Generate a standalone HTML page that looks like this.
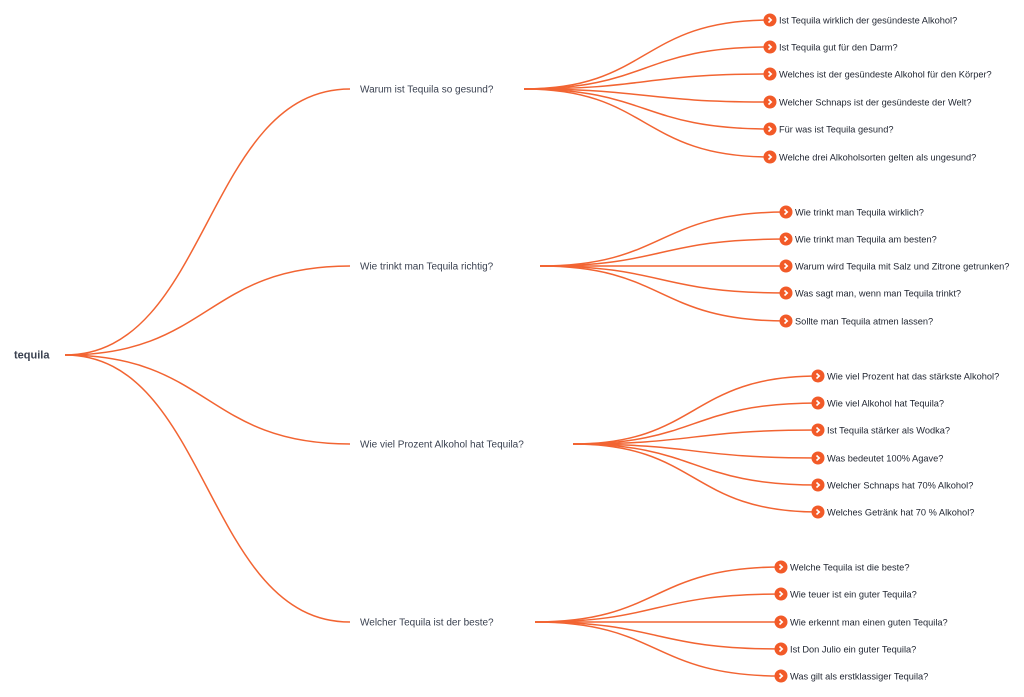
<!DOCTYPE html>
<html><head><meta charset="utf-8"><style>
html,body{margin:0;padding:0;background:#fff;}
svg{display:block}
text{font-family:"Liberation Sans",sans-serif;fill:#2d3340;}
.c{font-size:9.25px;fill:#1f2430}
.b{font-size:10px;fill:#3a4150}
path{fill:none;stroke:#f26432;stroke-width:1.5}
</style></head><body>
<svg width="1024" height="697" viewBox="0 0 1024 697">
<g>
<path d="M65 355 C210 355 205 89 350 89"/>
<path d="M65 355 C210 355 205 266 350 266"/>
<path d="M65 355 C210 355 205 444 350 444"/>
<path d="M65 355 C210 355 205 622 350 622"/>

<path d="M524 89 C650 89 640 20 770 20"/>
<path d="M524 89 C650 89 640 47 770 47"/>
<path d="M524 89 C650 89 640 74 770 74"/>
<path d="M524 89 C650 89 640 102 770 102"/>
<path d="M524 89 C650 89 640 129 770 129"/>
<path d="M524 89 C650 89 640 157 770 157"/>

<path d="M540 266 C666 266 656 212 786 212"/>
<path d="M540 266 C666 266 656 239 786 239"/>
<path d="M540 266 C666 266 656 266 786 266"/>
<path d="M540 266 C666 266 656 293 786 293"/>
<path d="M540 266 C666 266 656 321 786 321"/>

<path d="M573 444 C699 444 689 376 818 376"/>
<path d="M573 444 C699 444 689 403 818 403"/>
<path d="M573 444 C699 444 689 430 818 430"/>
<path d="M573 444 C699 444 689 458 818 458"/>
<path d="M573 444 C699 444 689 485 818 485"/>
<path d="M573 444 C699 444 689 512 818 512"/>

<path d="M535 622 C661 622 651 567 781 567"/>
<path d="M535 622 C661 622 651 594 781 594"/>
<path d="M535 622 C661 622 651 622 781 622"/>
<path d="M535 622 C661 622 651 649 781 649"/>
<path d="M535 622 C661 622 651 676 781 676"/>
</g>

<text x="14" y="358.5" style="font-size:11px;font-weight:bold;fill:#3a4150">tequila</text>
<text class="b" x="360" y="92.5">Warum ist Tequila so gesund?</text>
<text class="b" x="360" y="269.5">Wie trinkt man Tequila richtig?</text>
<text class="b" x="360" y="447.5">Wie viel Prozent Alkohol hat Tequila?</text>
<text class="b" x="360" y="625.5">Welcher Tequila ist der beste?</text>

<defs>
<g id="dot"><circle r="6.5" fill="#f25a28"/><path d="M-1.5 -2.5 L1.2 0 L-1.5 2.5" style="stroke:#fff;stroke-width:1.6"/></g>
</defs>

<use href="#dot" x="770" y="20"/><text class="c" x="779" y="23.5">Ist Tequila wirklich der gesündeste Alkohol?</text>
<use href="#dot" x="770" y="47"/><text class="c" x="779" y="50.5">Ist Tequila gut für den Darm?</text>
<use href="#dot" x="770" y="74"/><text class="c" x="779" y="77.5">Welches ist der gesündeste Alkohol für den Körper?</text>
<use href="#dot" x="770" y="102"/><text class="c" x="779" y="105.5">Welcher Schnaps ist der gesündeste der Welt?</text>
<use href="#dot" x="770" y="129"/><text class="c" x="779" y="132.5">Für was ist Tequila gesund?</text>
<use href="#dot" x="770" y="157"/><text class="c" x="779" y="160.5">Welche drei Alkoholsorten gelten als ungesund?</text>

<use href="#dot" x="786" y="212"/><text class="c" x="795" y="215.5">Wie trinkt man Tequila wirklich?</text>
<use href="#dot" x="786" y="239"/><text class="c" x="795" y="242.5">Wie trinkt man Tequila am besten?</text>
<use href="#dot" x="786" y="266"/><text class="c" x="795" y="269.5">Warum wird Tequila mit Salz und Zitrone getrunken?</text>
<use href="#dot" x="786" y="293"/><text class="c" x="795" y="296.5">Was sagt man, wenn man Tequila trinkt?</text>
<use href="#dot" x="786" y="321"/><text class="c" x="795" y="324.5">Sollte man Tequila atmen lassen?</text>

<use href="#dot" x="818" y="376"/><text class="c" x="827" y="379.5">Wie viel Prozent hat das stärkste Alkohol?</text>
<use href="#dot" x="818" y="403"/><text class="c" x="827" y="406.5">Wie viel Alkohol hat Tequila?</text>
<use href="#dot" x="818" y="430"/><text class="c" x="827" y="433.5">Ist Tequila stärker als Wodka?</text>
<use href="#dot" x="818" y="458"/><text class="c" x="827" y="461.5">Was bedeutet 100% Agave?</text>
<use href="#dot" x="818" y="485"/><text class="c" x="827" y="488.5">Welcher Schnaps hat 70% Alkohol?</text>
<use href="#dot" x="818" y="512"/><text class="c" x="827" y="515.5">Welches Getränk hat 70 % Alkohol?</text>

<use href="#dot" x="781" y="567"/><text class="c" x="790" y="570.5">Welche Tequila ist die beste?</text>
<use href="#dot" x="781" y="594"/><text class="c" x="790" y="597.5">Wie teuer ist ein guter Tequila?</text>
<use href="#dot" x="781" y="622"/><text class="c" x="790" y="625.5">Wie erkennt man einen guten Tequila?</text>
<use href="#dot" x="781" y="649"/><text class="c" x="790" y="652.5">Ist Don Julio ein guter Tequila?</text>
<use href="#dot" x="781" y="676"/><text class="c" x="790" y="679.5">Was gilt als erstklassiger Tequila?</text>
</svg>
</body></html>
